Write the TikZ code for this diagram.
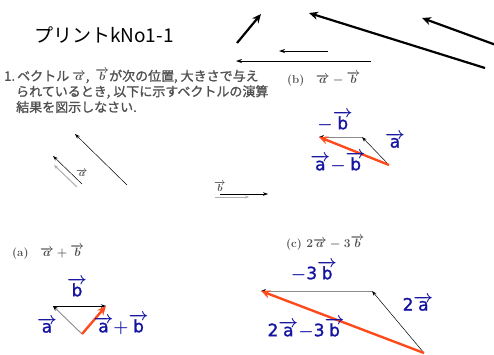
\documentclass[tikz,border=0pt]{standalone}
\usepackage{fontspec}
\setmainfont{Noto Sans CJK JP}
\newfontfamily\jpfont{Noto Sans CJK JP}
\newfontfamily\jpbold{Noto Sans CJK JP}[FakeBold=1.3]
\newfontfamily\lmfont{Latin Modern Roman}
\newfontfamily\handfont{DejaVu Sans}[FakeBold=1.5]
\usetikzlibrary{arrows.meta}
\definecolor{handblue}{HTML}{1414A0}
\definecolor{redvec}{HTML}{FF4A1C}
\definecolor{printgray}{HTML}{505050}
\definecolor{linegray}{HTML}{8C8C8C}
\newcommand\hv[1]{$\overrightarrow{\hbox{#1}}$}
\newcommand\pv[1]{\overrightarrow{#1}}
\begin{document}
\begin{tikzpicture}[x=1pt,y=-1pt,
  thickarrow/.style={line width=2.2pt,-{Stealth[length=9pt,width=8pt]}},
  thinarrow/.style={line width=0.8pt,-{Stealth[length=6pt,width=4pt]}},
  printarrow/.style={line width=0.5pt,-{Stealth[length=5pt,width=3.5pt]}},
  grayarrow/.style={line width=0.9pt,draw=linegray,-{Stealth[length=5pt,width=4pt,color=black]}},
  redarrow/.style={line width=2.4pt,draw=redvec,-{Stealth[length=9pt,width=8pt]}},
  hand/.style={text=handblue,font=\handfont\boldmath\fontsize{17}{17}\selectfont,inner sep=0pt},
  printtxt/.style={text=printgray,font=\jpbold\boldmath\fontsize{13}{16.5}\selectfont,inner sep=0pt,anchor=west},
  printlbl/.style={text=printgray,font=\lmfont\bfseries\boldmath\fontsize{11.5}{13}\selectfont,inner sep=0pt,anchor=west}]
\useasboundingbox (0,0) rectangle (494,354);
% title
\node[anchor=west,inner sep=0pt,font=\jpfont\fontsize{19}{20}\selectfont] (title) at (34,35) {プリントkNo1-1};
% top arrows
\coordinate (t1s) at (237,43); \coordinate (t1e) at (261,14);
\draw[thickarrow] (t1s) -- (t1e);
\coordinate (t2s) at (485,68); \coordinate (t2e) at (309,13);
\draw[thickarrow] (t2s) -- (t2e);
\coordinate (t3s) at (496,45); \coordinate (t3e) at (422,18);
\draw[thickarrow] (t3s) -- (t3e);
\coordinate (t4s) at (328,51); \coordinate (t4e) at (279,51);
\draw[thinarrow] (t4s) -- (t4e);
\coordinate (t5s) at (371,61); \coordinate (t5e) at (236,61);
\draw[thinarrow] (t5s) -- (t5e);
% problem text
\node[printtxt] (q1) at (4,76) {1.\,ベクトル $\pv{a}$,\ \ $\pv{b}$が次の位置, 大きさで与え};
\node[printtxt] (q2) at (16,92) {られているとき, 以下に示すベクトルの演算};
\node[printtxt] (q3) at (16,107) {結果を図示しなさい.};
\node[printlbl] (lb) at (287,79) {(b)\quad $\pv{a}-\pv{b}$};
% given vectors
\coordinate (g0s) at (127,185); \coordinate (g0e) at (75,134);
\draw[printarrow] (g0s) -- (g0e);
\coordinate (gas) at (82,184); \coordinate (gae) at (53,156);
\draw[printarrow] (gas) -- (gae);
\coordinate (gas2) at (77,187); \coordinate (gae2) at (54,165);
\draw[line width=1pt,draw=linegray!70,-{Stealth[length=4pt,width=3pt]}] (gas2) -- (gae2);
\node[printlbl,font=\lmfont\boldmath\fontsize{10}{12}\selectfont] (la) at (76,173) {$\pv{a}$};
\coordinate (gbs) at (220,194); \coordinate (gbe) at (268,194);
\draw[printarrow] (gbs) -- (gbe);
\coordinate (gbs2) at (215,197); \coordinate (gbe2) at (249,197);
\draw[line width=1pt,draw=linegray!70,-{Stealth[length=4pt,width=3pt]}] (gbs2) -- (gbe2);
\node[printlbl,font=\lmfont\boldmath\fontsize{10}{12}\selectfont] (lbb) at (214,187) {$\pv{b}$};
% (b) diagram
\coordinate (bO) at (389,165); \coordinate (bA) at (362,137); \coordinate (bB) at (319,137);
\draw[grayarrow] (bA) -- (bB);
\draw[printarrow] (bO) -- (bA);
\draw[redarrow] (bO) -- (bB);
\node[hand] (hmb) at (335,121) {$-$\hv{b}};
\node[hand] (hba) at (395,140) {\hv{a}};
\node[hand] (hbab) at (338,162) {\hv{a}$-$\hv{b}};
% (a) diagram
\node[printlbl] (la2) at (12,252) {(a)\quad $\pv{a}+\pv{b}$};
\coordinate (aO) at (82,334); \coordinate (aA) at (53,306); \coordinate (aB) at (106,306);
\draw[grayarrow] (aO) -- (aA);
\draw[printarrow] (aA) -- (aB);
\draw[redarrow] (aO) -- (aB);
\node[hand] (hab) at (77,287) {\hv{b}};
\node[hand] (haa) at (47,325) {\hv{a}};
\node[hand] (hapb) at (121,324) {\hv{a}$+$\hv{b}};
% (c) diagram
\node[printlbl] (lc) at (286,243) {(c) $2\pv{a}-3\pv{b}$};
\coordinate (cO) at (424,353); \coordinate (cA) at (372,291); \coordinate (cB) at (261,291);
\draw[grayarrow] (cA) -- (cB);
\draw[printarrow] (cO) -- (cA);
\draw[redarrow] (cO) -- (cB);
\node[hand] (hc3b) at (314,271) {$-$3\hv{b}};
\node[hand] (hc2a) at (418,303) {2\hv{a}};
\node[hand] (hcres) at (306,328) {2\hv{a}$-$3\hv{b}};
\end{tikzpicture}
\end{document}
